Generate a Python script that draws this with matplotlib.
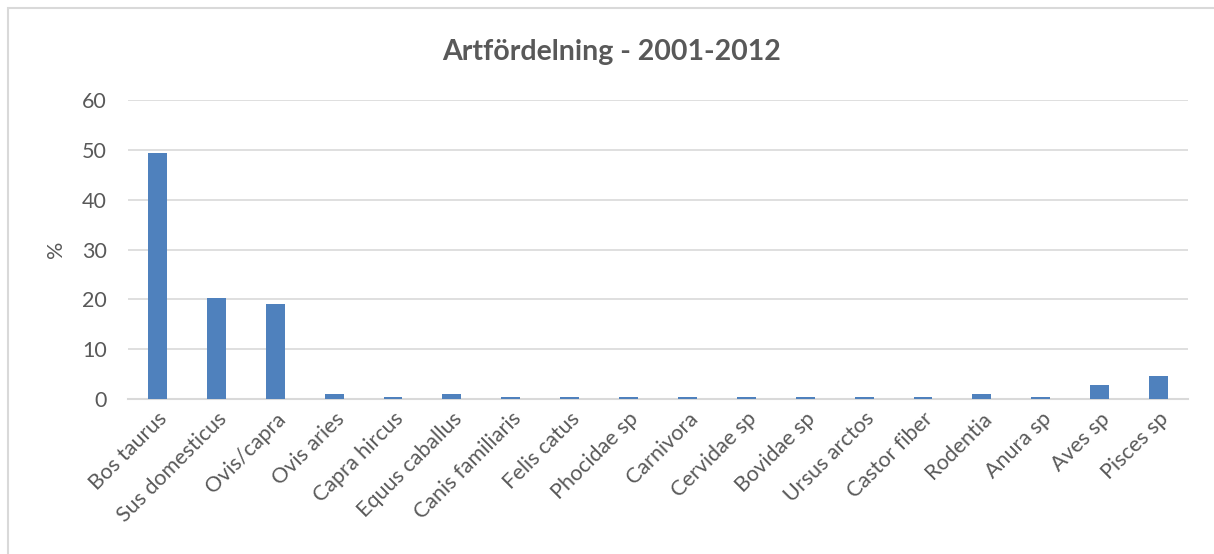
import matplotlib.pyplot as plt
from matplotlib.patches import Rectangle

# 数据
arter = ['Bos taurus', 'Sus domesticus', 'Ovis/capra', 'Ovis aries', 'Capra hircus',
         'Equus caballus', 'Canis familiaris', 'Felis catus', 'Phocidae sp', 'Carnivora',
         'Cervidae sp', 'Bovidae sp', 'Ursus arctos', 'Castor fiber', 'Rodentia',
         'Anura sp', 'Aves sp', 'Pisces sp']
procent = [49.5, 20.2, 19.1, 1.1, 0.3, 1.1, 0.3, 0.3, 0.3, 0.3,
           0.3, 0.3, 0.3, 0.3, 1.1, 0.3, 2.8, 4.6]

grey = '#595959'
plt.rcParams['font.family'] = ['Lato', 'DejaVu Sans']

fig = plt.figure(figsize=(12.14, 5.54), dpi=100)
ax = fig.add_axes([0.1054, 0.2798, 0.8732, 0.5388])

x = range(len(arter))
ax.bar(x, procent, width=0.32, color='#4f81bd', zorder=3)

ax.set_xlim(-0.5, len(arter) - 0.5)
ax.set_ylim(0, 60)
ax.set_yticks(range(0, 61, 10))
ax.set_xticks(list(x))
ax.set_xticklabels(arter, rotation=45, ha='right', rotation_mode='anchor',
                   fontsize=15.5, color=grey)
ax.tick_params(axis='y', labelsize=15.5, labelcolor=grey, length=0, pad=15)
ax.tick_params(axis='x', length=0, pad=7)
ax.grid(axis='y', color='#d9d9d9', linewidth=1.2, zorder=0)
for side in ['top', 'right', 'left']:
    ax.spines[side].set_visible(False)
ax.spines['bottom'].set_color('#d9d9d9')
ax.spines['bottom'].set_linewidth(1.5)
ax.set_ylabel('%', fontsize=15.5, color=grey, labelpad=12)

fig.text(0.504, 0.906, 'Artfördelning - 2001-2012', ha='center', va='center',
         fontsize=20.5, fontweight='bold', color=grey)

# 图表外框
fig.patches.append(Rectangle((8 / 1214, -0.1), 1.2, 1.1 - 8 / 554,
                             transform=fig.transFigure, fill=False,
                             edgecolor='#d9d9d9', linewidth=1.5))

fig.savefig('out.png', dpi=100)
